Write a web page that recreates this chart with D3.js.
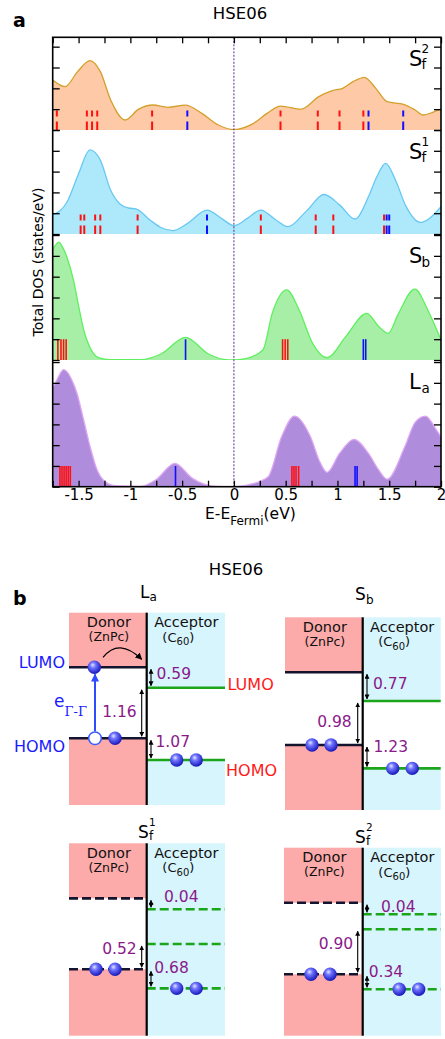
<!DOCTYPE html>
<html>
<head>
<meta charset="utf-8">
<script src="https://cdn.jsdelivr.net/npm/d3@7"></script>
<style>
body { margin: 0; background: #fff; }
text { font-family: "DejaVu Sans", sans-serif; }
</style>
</head>
<body>
<script>
// ---------- panel a : total DOS (E - E_Fermi in eV, DOS in states/eV) ----------
const sf2E   = [-1.75,-1.63,-1.51,-1.39,-1.29,-1.19,-1.05,-0.92,-0.78,-0.64,-0.47,-0.31,-0.15,0,0.19,0.32,0.45,0.65,0.82,0.95,1.05,1.15,1.26,1.37,1.48,1.64,1.75,1.83,1.92,2.0];
const sf2Dos = [2.4,2.08,2.8,3.33,2.8,1.44,0.48,1.0,1.2,1.09,1.19,0.8,0.24,0.02,0.32,0.8,1.15,1.0,1.6,1.89,2.0,2.32,2.53,2.0,1.36,1.23,0.96,0.72,0.85,1.0];
const sf2Red  = [-1.71,-1.42,-1.37,-1.32,-0.79,0.45,0.81,1.02,1.25];
const sf2Blue = [-0.45,1.30,1.635];

const sf1E   = [-1.75,-1.61,-1.5,-1.39,-1.29,-1.19,-1.1,-1.02,-0.94,-0.81,-0.7,-0.59,-0.45,-0.26,-0.12,0,0.13,0.26,0.4,0.52,0.7,0.87,1.02,1.17,1.3,1.38,1.465,1.56,1.66,1.8,2.0];
const sf1Dos = [0.91,1.55,2.9,4.04,3.55,2.1,1.44,1.25,1.2,0.67,0.3,0.16,0.5,1.15,0.75,0.4,0.75,1.15,0.7,0.35,1.1,1.9,1.4,0.72,1.8,2.75,3.4,2.6,1.35,0.56,1.31];
const sf1Red  = [-1.48,-1.445,-1.34,-1.29,-0.93,0.26,0.79,0.96,1.45];
const sf1Blue = [-0.26,1.475,1.50];

const sbE   = [-1.75,-1.69,-1.65,-1.61,-1.55,-1.5,-1.45,-1.38,-1.3,-1.2,-0.9,-0.7,-0.467,-0.25,-0.1,0,0.1,0.28,0.37,0.51,0.63,0.76,0.9,1.08,1.283,1.4,1.49,1.59,1.747,1.88,2.0];
const sbDos = [5.3,5.66,5.37,4.9,3.85,2.6,1.44,0.5,0.1,0.02,0.02,0.3,1.09,0.3,0.03,0,0.05,0.48,2.24,3.37,2.4,0.8,0.11,1.12,2.24,1.6,1.28,2.24,3.4,2.32,0.96];
const sbRed  = [-1.70,-1.67,-1.645,-1.62,0.47,0.495,0.52];
const sbBlue = [-0.467,1.25,1.273];

const laE   = [-1.75,-1.72,-1.644,-1.55,-1.515,-1.45,-1.388,-1.33,-1.26,-1.15,-0.9,-0.75,-0.57,-0.4,-0.2,0,0.15,0.33,0.46,0.584,0.74,0.83,0.9,1.02,1.16,1.3,1.4,1.48,1.65,1.75,1.85,1.96,2.0];
const laDos = [4.8,5.05,5.64,4.97,4.49,3.2,1.92,0.93,0.32,0.05,0.02,0.35,1.12,0.4,0.03,0,0.1,0.48,2.4,3.4,2.4,1.2,0.69,1.6,2.28,1.6,0.8,0.36,1.92,3.1,3.4,2.7,2.4];
const laRed  = [-1.68,-1.66,-1.64,-1.62,-1.60,-1.58,0.56,0.58,0.60,0.625];
const laBlue = [-0.564,1.17,1.19];

const xTicks = [-1.75,-1.5,-1.25,-1,-0.75,-0.5,-0.25,0,0.25,0.5,0.75,1,1.25,1.5,1.75,2];

// ---------- panel b : level schemes (level height as fraction of box, bottom = 0) ----------
const diagNames   = [["L","a",""],["S","b",""],["S","f","1"],["S","f","2"]];
const laDonor     = [0.716,0.347];          // LUMO, HOMO
const laAcceptor  = [0.610,0.234];
const sbDonor     = [0.715,0.337];
const sbAcceptor  = [0.566,0.216];
const sf1Donor    = [0.714,0.345];
const sf1Acceptor = [0.657,0.477,0.246];
const sf2Donor    = [0.707,0.327];
const sf2Acceptor = [0.646,0.566,0.247];
const laGaps  = ["0.59","1.16","1.07"];
const sbGaps  = ["0.77","0.98","1.23"];
const sf1Gaps = ["0.04","0.52","0.68"];
const sf2Gaps = ["0.04","0.90","0.34"];

const W = 445, H = 1039;
const svg = d3.select("body").append("svg").attr("width", W).attr("height", H);
const defs = svg.append("defs");

// ball gradient
const grad = defs.append("radialGradient").attr("id","ball")
  .attr("cx","42%").attr("cy","38%").attr("r","62%").attr("fx","38%").attr("fy","32%");
grad.append("stop").attr("offset","0%").attr("stop-color","#e4e6ff");
grad.append("stop").attr("offset","35%").attr("stop-color","#6f74ff");
grad.append("stop").attr("offset","100%").attr("stop-color","#1616b8");

function marker(id, color, w, h) {
  defs.append("marker").attr("id", id).attr("viewBox","0 0 10 10")
    .attr("refX", 9).attr("refY", 5).attr("markerWidth", w).attr("markerHeight", h)
    .attr("markerUnits","userSpaceOnUse").attr("orient","auto-start-reverse")
    .append("path").attr("d","M0,0L10,5L0,10z").attr("fill", color);
}
marker("ah", "#000", 5, 5);
marker("ahBlue", "#2f4bff", 8, 8);
marker("ahCurve", "#000", 7, 7);

// label with stacked super/subscript, kept in one text element
function stackLabel(x0, base, lab, big, sup, sub, dxs, supUp, subDown) {
  const t = svg.append("text").attr("x", x0).attr("y", base);
  t.append("tspan").attr("font-size", big).text(lab[0]);
  if (lab[2]) {
    t.append("tspan").attr("x", x0 + dxs).attr("dy", -supUp).attr("font-size", sup).text(lab[2]);
    t.append("tspan").attr("x", x0 + dxs).attr("dy", supUp + subDown).attr("font-size", sub).text(lab[1]);
  } else {
    t.append("tspan").attr("x", x0 + dxs).attr("dy", big * 0.2).attr("font-size", sub).text(lab[1]);
  }
}

// ================= panel a =================
const x = d3.scaleLinear().domain([-1.75, 2]).range([52.7, 441]);
const plotTop = 37.3, plotBottom = 486.7;

const panels = [
  {E: sf2E, D: sf2Dos, red: sf2Red, blue: sf2Blue, top: 37.3, bottom: 130, max: 4.45,
   fill: "#fdc9a6", stroke: "#d4a02a", dashed: true, lab: ["S","f","2"]},
  {E: sf1E, D: sf1Dos, red: sf1Red, blue: sf1Blue, top: 130, bottom: 234, max: 5,
   fill: "#aee9fb", stroke: "#68c8f2", dashed: true, lab: ["S","f","1"]},
  {E: sbE, D: sbDos, red: sbRed, blue: sbBlue, top: 234, bottom: 360, max: 6.05,
   fill: "#a7eea7", stroke: "#5ef05e", dashed: false, lab: ["S","b",""]},
  {E: laE, D: laDos, red: laRed, blue: laBlue, top: 360, bottom: 486.7, max: 6.1,
   fill: "#b08ddc", stroke: "#e0a8f4", dashed: false, lab: ["L","a",""]}
];

panels.forEach((p, i) => {
  const y = d3.scaleLinear().domain([0, p.max]).range([p.bottom, p.top]);
  const pts = p.E.map((e, k) => ({e: e, v: p.D[k]}));
  const g = svg.append("g");
  defs.append("clipPath").attr("id", "clip" + i).append("rect")
    .attr("x", x(-1.75)).attr("y", p.top).attr("width", x(2) - x(-1.75)).attr("height", p.bottom - p.top);
  const body = g.append("g").attr("clip-path", `url(#clip${i})`);

  body.append("path").datum(pts)
    .attr("d", d3.area().x(d => x(d.e)).y0(y(0)).y1(d => y(d.v)).curve(d3.curveMonotoneX))
    .attr("fill", p.fill);

  const bars = [].concat(p.red.map(e => ({e: e, c: "#ff1010"})), p.blue.map(e => ({e: e, c: "#1010ff"})));
  body.selectAll("line.bar").data(bars).join("line")
    .attr("x1", d => x(d.e)).attr("x2", d => x(d.e))
    .attr("y1", y(0)).attr("y2", y(p.dashed ? 0.95 : 1))
    .attr("stroke", d => d.c).attr("stroke-width", p.dashed ? 2 : 1.6)
    .attr("stroke-dasharray", p.dashed ? "8.5,5,6,20" : null);

  body.append("path").datum(pts)
    .attr("d", d3.line().x(d => x(d.e)).y(d => y(d.v)).curve(d3.curveMonotoneX))
    .attr("fill", "none").attr("stroke", p.stroke).attr("stroke-width", 1.3);

  // y ticks (inside, both sides)
  const yt = d3.range(0, Math.floor(p.max) + 1);
  g.append("g").attr("transform", `translate(${x(-1.75)},0)`)
    .call(d3.axisLeft(y).tickValues(yt).tickSize(-7).tickFormat(""))
    .call(a => a.select(".domain").remove())
    .selectAll("line").attr("stroke-width", 1.3);
  g.append("g").attr("transform", `translate(${x(2)},0)`)
    .call(d3.axisRight(y).tickValues(yt).tickSize(-7).tickFormat(""))
    .call(a => a.select(".domain").remove())
    .selectAll("line").attr("stroke-width", 1.3);

  stackLabel(409, p.top + 29, p.lab, 21, 12, 13.5, 12.5, 13, 3);
});

// Fermi level
svg.append("line").attr("x1", x(0)).attr("x2", x(0)).attr("y1", plotTop).attr("y2", plotBottom)
  .attr("stroke", "#5a2a8e").attr("stroke-width", 1).attr("stroke-dasharray", "2,1.5");

// x axes
svg.append("g").attr("transform", `translate(0,${plotTop})`)
  .call(d3.axisTop(x).tickValues(xTicks).tickSize(-6).tickFormat(""))
  .call(a => a.select(".domain").remove())
  .selectAll("line").attr("stroke-width", 1.3);
const xb = svg.append("g").attr("transform", `translate(0,${plotBottom})`)
  .call(d3.axisBottom(x).tickValues(xTicks).tickSize(-6).tickPadding(3)
    .tickFormat(d => (Math.abs(d * 2 - Math.round(d * 2)) < 1e-9) ? String(d) : ""))
  .call(a => a.select(".domain").remove());
xb.selectAll("line").attr("stroke-width", 1.3);
xb.selectAll("text").attr("font-size", 15).attr("fill", "#000").attr("font-family", "DejaVu Sans");

// frame
svg.append("rect").attr("x", x(-1.75)).attr("y", plotTop).attr("width", x(2) - x(-1.75))
  .attr("height", plotBottom - plotTop).attr("fill", "none").attr("stroke", "#000").attr("stroke-width", 1.6);

// titles and axis labels
svg.append("text").attr("x", 13).attr("y", 27).attr("font-size", 19).attr("font-weight", "bold").text("a");
svg.append("text").attr("x", 240).attr("y", 18.5).attr("text-anchor", "middle").attr("font-size", 16.5).text("HSE06");
svg.append("text").attr("transform", "translate(43,262) rotate(-90)").attr("text-anchor", "middle")
  .attr("font-size", 14).text("Total DOS (states/eV)");
const xl = svg.append("text").attr("x", 205).attr("y", 518.5).attr("font-size", 15.5);
xl.append("tspan").text("E-E");
xl.append("tspan").attr("dy", 6).attr("font-size", 12).text("Fermi");
xl.append("tspan").attr("dy", -6).text("(eV)");

// ================= panel b =================
svg.append("text").attr("x", 13).attr("y", 605).attr("font-size", 19).attr("font-weight", "bold").text("b");
svg.append("text").attr("x", 236).attr("y", 575).attr("text-anchor", "middle").attr("font-size", 16.5).text("HSE06");

const pink = "#fdaaaa", sky = "#d7f5fd", dark = "#14142e", green = "#1aa51a", purple = "#8a1a8a";

const diagrams = [
  {donor: laDonor, acc: laAcceptor, gaps: laGaps, x0: 69, xm: 146.7, x1: 225, top: 612.7, bottom: 805,
   dashed: false, accFull: false, ballDx: 30, name: diagNames[0], tx: -6.7, tb: 15,
   links: [[0, "dL", "a0", 1, 5.5, 1.5], [1, "a0", "dH", -1, 5, 4.3], [2, "dH", "a1", 1, 4.5, -2.3]]},
  {donor: sbDonor, acc: sbAcceptor, gaps: sbGaps, x0: 285, xm: 362.7, x1: 440.7, top: 617.3, bottom: 810,
   dashed: false, accFull: false, ballDx: 30, name: diagNames[1], tx: -7.7, tb: 17,
   links: [[0, "dL", "a0", 1, 6, 2.6], [1, "a0", "dH", -1, 6, 3.7], [2, "dH", "a1", 1, 6.5, -5]]},
  {donor: sf1Donor, acc: sf1Acceptor, gaps: sf1Gaps, x0: 69, xm: 146.7, x1: 225, top: 843.3, bottom: 1035.7,
   dashed: true, accFull: true, ballDx: 30, name: diagNames[2], tx: -8.7, tb: 5.5,
   links: [[0, "dL", "a0", 1, 13, -2], [1, "a1", "dH", -1, 5, -2.7], [2, "dH", "a2", 1, 3.3, -5.4]]},
  {donor: sf2Donor, acc: sf2Acceptor, gaps: sf2Gaps, x0: 284, xm: 362.7, x1: 441, top: 847.7, bottom: 1035.7,
   dashed: true, accFull: true, ballDx: 36.5, name: diagNames[3], tx: -7.7, tb: 5,
   links: [[0, "dL", "a0", 1, 14, 3.2], [1, "a1", "dH", -1, 4.5, -2.8], [2, "dH", "a2", 1, 1.7, -5.1]]}
];

function ball(g, cx, cy) {
  g.append("circle").attr("cx", cx).attr("cy", cy).attr("r", 6.7).attr("fill", "url(#ball)");
}

diagrams.forEach((d, di) => {
  const g = svg.append("g");
  const ly = d3.scaleLinear().domain([0, 1]).range([d.bottom, d.top]);
  const lv = {dL: ly(d.donor[0]), dH: ly(d.donor[1])};
  d.acc.forEach((a, k) => lv["a" + k] = ly(a));
  const aLast = lv["a" + (d.acc.length - 1)];

  // backgrounds
  g.append("rect").attr("x", d.x0).attr("y", d.top).attr("width", d.xm - d.x0).attr("height", lv.dL - d.top).attr("fill", pink);
  g.append("rect").attr("x", d.x0).attr("y", lv.dH).attr("width", d.xm - d.x0).attr("height", d.bottom - lv.dH).attr("fill", pink);
  if (d.accFull) {
    g.append("rect").attr("x", d.xm).attr("y", d.top).attr("width", d.x1 - d.xm).attr("height", d.bottom - d.top).attr("fill", sky);
  } else {
    g.append("rect").attr("x", d.xm).attr("y", d.top).attr("width", d.x1 - d.xm).attr("height", lv.a0 - d.top).attr("fill", sky);
    g.append("rect").attr("x", d.xm).attr("y", aLast).attr("width", d.x1 - d.xm).attr("height", d.bottom - aLast).attr("fill", sky);
  }

  // levels
  [lv.dL, lv.dH].forEach(yy => g.append("line").attr("x1", d.x0).attr("x2", d.xm).attr("y1", yy).attr("y2", yy)
    .attr("stroke", dark).attr("stroke-width", 2.6).attr("stroke-dasharray", d.dashed ? "9,4" : null));
  d.acc.forEach((a, k) => g.append("line").attr("x1", d.xm).attr("x2", d.x1).attr("y1", lv["a" + k]).attr("y2", lv["a" + k])
    .attr("stroke", green).attr("stroke-width", 2.6).attr("stroke-dasharray", d.dashed ? "9,4" : null));

  // divider
  g.append("line").attr("x1", d.xm).attr("x2", d.xm).attr("y1", d.top).attr("y2", d.bottom)
    .attr("stroke", "#000").attr("stroke-width", 2.2);

  // header text
  const dc = (d.x0 + d.xm) / 2 + 1, ac = (d.xm + d.x1) / 2 + 0.5;
  g.append("text").attr("x", dc).attr("y", d.top + 14.5).attr("text-anchor", "middle").attr("font-size", 14.5).attr("fill", "#111").text("Donor");
  g.append("text").attr("x", dc).attr("y", d.top + 28.5).attr("text-anchor", "middle").attr("font-size", 12.5).attr("fill", "#111").text("(ZnPc)");
  g.append("text").attr("x", ac).attr("y", d.top + 14.5).attr("text-anchor", "middle").attr("font-size", 14.5).attr("fill", "#111").text("Acceptor");
  const c60 = g.append("text").attr("x", ac - 8).attr("y", d.top + 29).attr("text-anchor", "middle").attr("font-size", 13).attr("fill", "#111");
  c60.append("tspan").text("(C");
  c60.append("tspan").attr("dy", 3.5).attr("font-size", 10).text("60");
  c60.append("tspan").attr("dy", -3.5).text(")");

  // diagram title
  stackLabel(d.xm + d.tx, d.top - d.tb, d.name, 17, 10.5, 12, d.name[0] === "L" ? 9.5 : 11, 12, 2);

  // gap arrows and labels
  d.links.forEach(l => {
    const [gi, from, to, side, dx, dy] = l;
    const ax = d.xm + (side > 0 ? 4.3 : -5);
    const y1 = lv[from], y2 = lv[to];
    g.append("line").attr("x1", ax).attr("x2", ax).attr("y1", y1 + 2).attr("y2", y2 - 2)
      .attr("stroke", "#000").attr("stroke-width", 1.1)
      .attr("marker-start", "url(#ah)").attr("marker-end", "url(#ah)");
    g.append("text").attr("x", ax + side * dx).attr("y", (y1 + y2) / 2 + dy)
      .attr("text-anchor", side > 0 ? "start" : "end").attr("font-size", 15.5).attr("fill", purple)
      .text(d.gaps[gi]);
  });

  // electrons
  const dB = d.x0 + 27;
  if (di === 0) {
    g.append("line").attr("x1", dB - 1).attr("x2", dB - 1).attr("y1", lv.dH - 7).attr("y2", lv.dL + 7)
      .attr("stroke", "#2f4bff").attr("stroke-width", 2).attr("marker-end", "url(#ahBlue)");
    g.append("circle").attr("cx", dB - 1).attr("cy", lv.dH).attr("r", 6.3)
      .attr("fill", "#fff").attr("stroke", "#3d5cff").attr("stroke-width", 1.5);
    ball(g, dB + 19, lv.dH);
    ball(g, dB - 1.7, lv.dL);
    g.append("path").attr("d", `M${dB + 7},${lv.dL - 10} Q${dB + 23},${lv.dL - 30} ${d.xm - 5},${lv.dL - 8}`)
      .attr("fill", "none").attr("stroke", "#000").attr("stroke-width", 1.2).attr("marker-end", "url(#ahCurve)");
    g.append("text").attr("x", d.x0 - 4).attr("y", lv.dL + 1).attr("text-anchor", "end").attr("font-size", 16).attr("fill", "#1a1aff").text("LUMO");
    g.append("text").attr("x", d.x0 - 4).attr("y", lv.dH + 13.4).attr("text-anchor", "end").attr("font-size", 16).attr("fill", "#1a1aff").text("HOMO");
    g.append("text").attr("x", d.x1 + 2.5).attr("y", lv.a0 + 2.3).attr("font-size", 16).attr("fill", "#ff1a1a").text("LUMO");
    g.append("text").attr("x", d.x1 + 1).attr("y", aLast + 15.7).attr("font-size", 16).attr("fill", "#ff1a1a").text("HOMO");
    const e = g.append("text").attr("x", 54).attr("y", lv.dL + 39.5).attr("font-size", 17).attr("fill", "#1a1aff");
    e.append("tspan").text("e");
    e.append("tspan").attr("dy", 9.5).attr("font-size", 13).attr("font-family", "DejaVu Serif").text("Γ-Γ");
  } else {
    ball(g, dB, lv.dH);
    ball(g, dB + 19, lv.dH);
  }
  ball(g, d.xm + d.ballDx, aLast);
  ball(g, d.xm + d.ballDx + 19.5, aLast);
});
</script>
</body>
</html>
